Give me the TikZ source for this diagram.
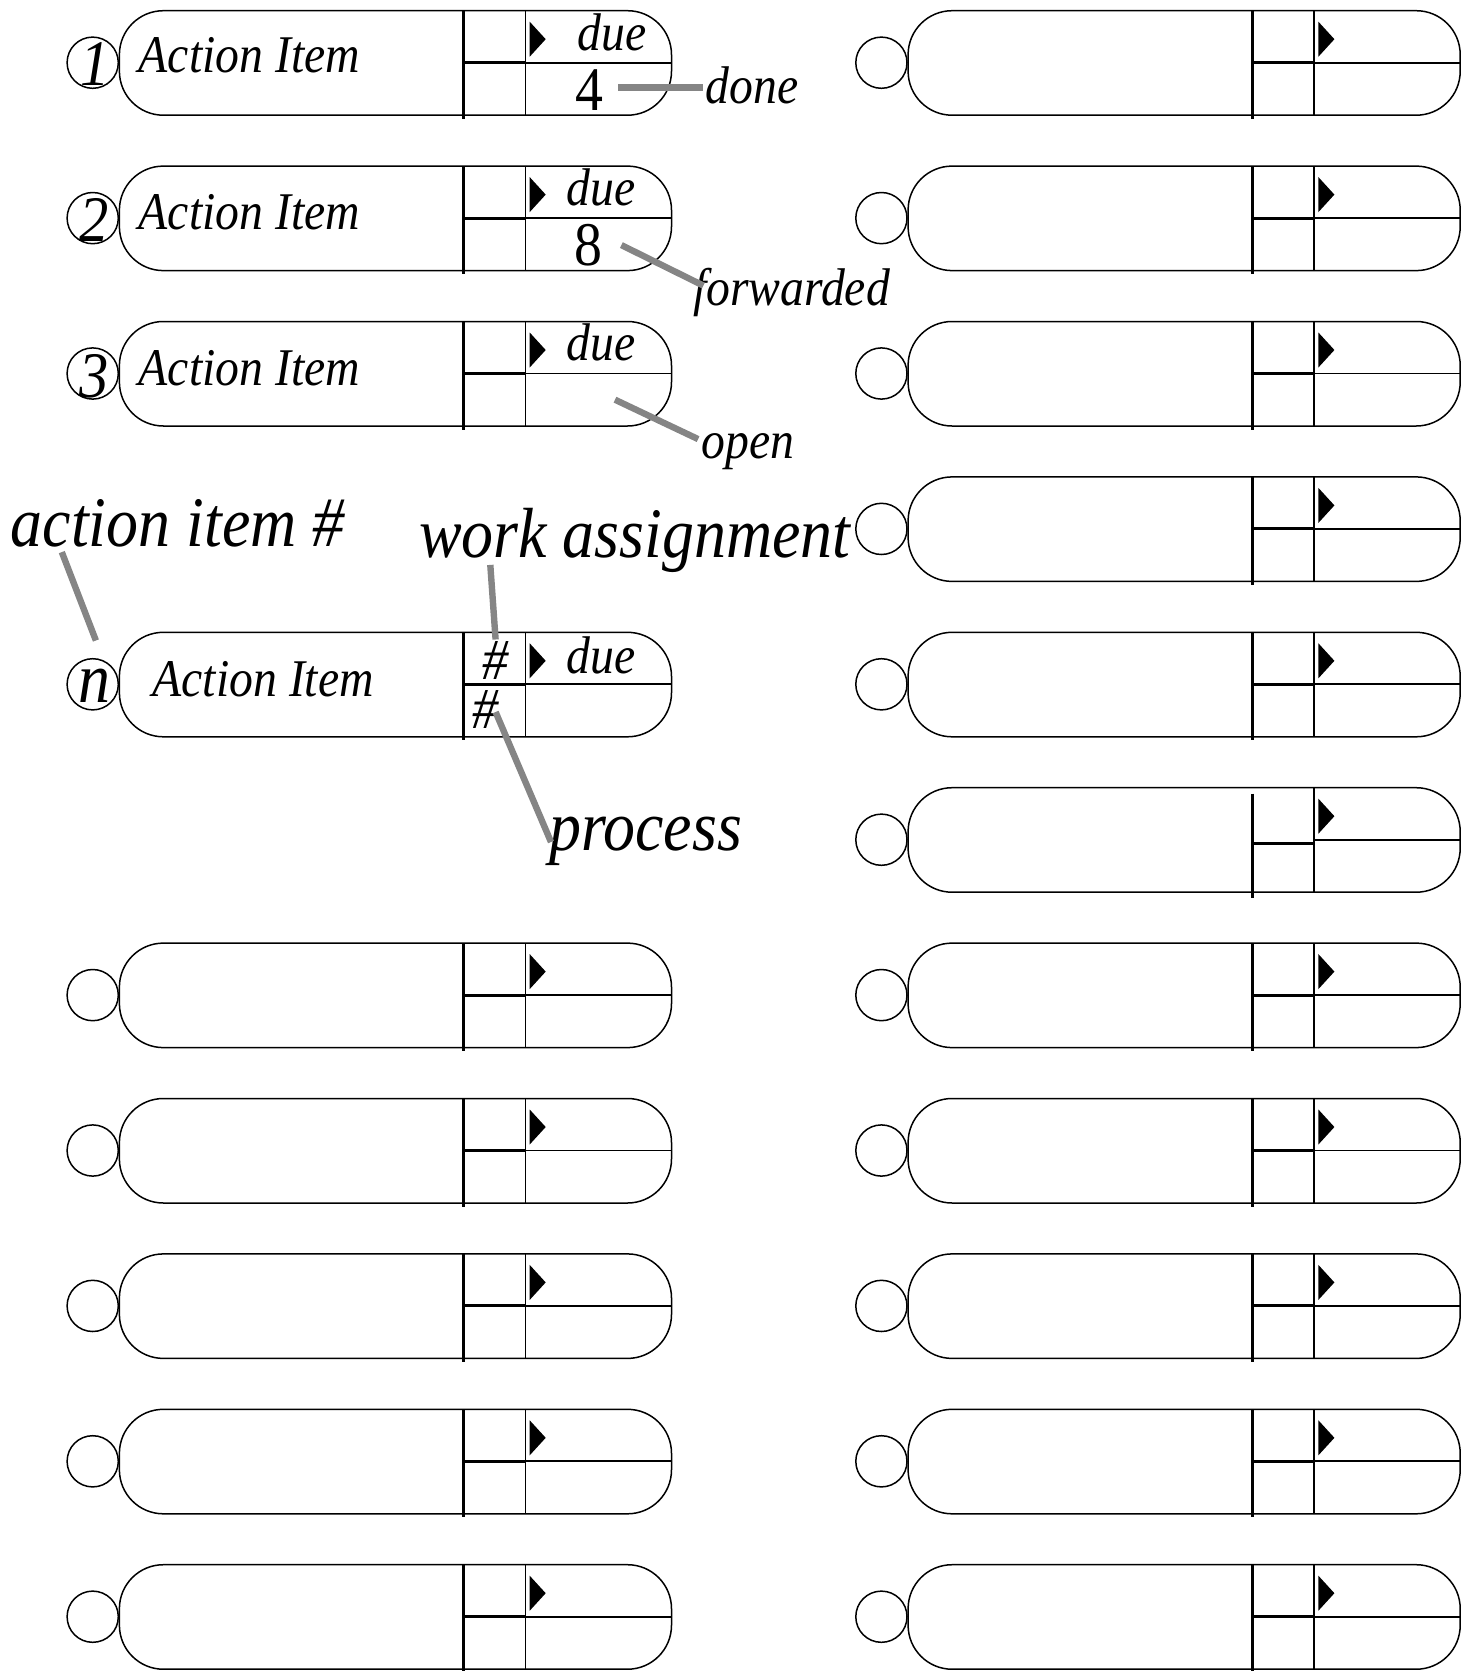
\documentclass[tikz,border=0pt]{standalone}
\usepackage{fontspec}
\newfontfamily\tf[FakeStretch=0.9]{Liberation Serif}
\tikzset{
  outline/.style={line width=1.5pt},
  thickbar/.style={line width=3pt},
  thinbar/.style={line width=1.8pt},
  callout/.style={draw=black!48, line width=6.4pt},
  lbl/.style={inner sep=0pt, font=\tf\itshape\fontsize{53}{53}\selectfont},
  big/.style={inner sep=0pt, font=\tf\itshape\fontsize{71}{71}\selectfont},
  digit/.style={inner sep=0pt, font=\tf\fontsize{62}{62}\selectfont},
  numc/.style={inner sep=0pt, font=\tf\itshape\fontsize{65}{65}\selectfont},
  hash/.style={inner sep=0pt, font=\tf\itshape\fontsize{58}{58}\selectfont},
  pics/capsule/.style={code={
    \draw[outline,rounded corners=44pt] (0,0) rectangle (552.1,104.5);
    \draw[outline] (-26.7,52) circle[radius=25.6];
    \draw[thickbar] (344.3,0) -- (344.3,108);
    \draw[thinbar] (406.1,0) -- (406.1,104.5);
    \draw[thickbar] (344.3,52) -- (406.1,52);
    \draw[thinbar] (406.1,52) -- (552.1,52);
    \fill (410.3,11) -- (426.3,28.5) -- (410.3,46) -- cycle;
  }},
  pics/capsuleb/.style={code={
    \draw[outline,rounded corners=44pt] (0,0) rectangle (552.1,104.5);
    \draw[outline] (-26.7,52) circle[radius=25.6];
    \draw[thickbar] (344.3,6) -- (344.3,110);
    \draw[thinbar] (406.1,0) -- (406.1,104.5);
    \draw[thickbar] (344.3,56) -- (406.1,56);
    \draw[thinbar] (406.1,52) -- (552.1,52);
    \fill (410.3,11) -- (426.3,28.5) -- (410.3,46) -- cycle;
  }}
}
\begin{document}
\begin{tikzpicture}[x=1pt,y=-1pt]
\useasboundingbox (0,0) rectangle (1473,1671);
% left column
\foreach \k in {0,1,2,4,6,7,8,9,10}{
  \pic (L\k) at (119.4,{10.7+155.4*\k}) {capsule};
}
% right column
\foreach \k in {0,1,2,3,4,6,7,8,9,10}{
  \pic (R\k) at (908.1,{10.7+155.4*\k}) {capsule};
}
\pic (R5) at (908.1,{10.7+155.4*5}) {capsuleb};

% row 1
\node[numc,anchor=base] (n1) at (94.9,85.5) {1};
\node[lbl,anchor=base west] (a1) at (138.6,72.7) {Action Item};
\node[lbl,anchor=base] (d1) at (611.8,50) {due};
\node[digit,anchor=base] (v1) at (589.4,110.8) {4};
\node[lbl,anchor=base west] (done) at (705.6,103.5) {done};
% row 2
\node[numc,anchor=base] (n2) at (93.8,241.6) {2};
\node[lbl,anchor=base west] (a2) at (138.6,229.5) {Action Item};
\node[lbl,anchor=base] (d2) at (601,205.1) {due};
\node[digit,anchor=base] (v2) at (588.3,265.4) {8};
\node[lbl,anchor=base west] (fwd) at (692.8,305.5) {forwarded};
% row 3
\node[numc,anchor=base] (n3) at (93.8,397) {3};
\node[lbl,anchor=base west] (a3) at (138.6,385) {Action Item};
\node[lbl,anchor=base] (d3) at (601,360.5) {due};
\node[lbl,anchor=base west] (open) at (701.3,458.5) {open};
% row n
\node[big,anchor=base] (nn) at (94.9,702) {n};
\node[lbl,anchor=base west] (an) at (152.4,696.5) {Action Item};
\node[lbl,anchor=base] (dn) at (601,673) {due};
\node[hash] (h1) at (495.6,660.5) {\#};
\node[hash] (h2) at (486,709.5) {\#};
% big labels
\node[big,anchor=base west] (ain) at (10.7,546.8) {action item \#};
\node[big,anchor=base west] (wa) at (418.9,557.4) {work assignment};
\node[big,anchor=base west] (proc) at (548.9,850.5) {process};

% callout lines
\coordinate (c1a) at (618.2,87.4);  \coordinate (c1b) at (703.4,87.4);
\coordinate (c2a) at (621.4,245.1); \coordinate (c2b) at (703.4,285.6);
\coordinate (c3a) at (615,399.7);   \coordinate (c3b) at (698.1,439.1);
\coordinate (c4a) at (61.8,552.1);  \coordinate (c4b) at (95.9,640.5);
\coordinate (c5a) at (490.3,564.9); \coordinate (c5b) at (495.6,639.5);
\coordinate (c6a) at (495.6,712);   \coordinate (c6b) at (551,842);
\draw[callout] (c1a) -- (c1b);
\draw[callout] (c2a) -- (c2b);
\draw[callout] (c3a) -- (c3b);
\draw[callout] (c4a) -- (c4b);
\draw[callout] (c5a) -- (c5b);
\draw[callout] (c6a) -- (c6b);
\end{tikzpicture}
\end{document}
